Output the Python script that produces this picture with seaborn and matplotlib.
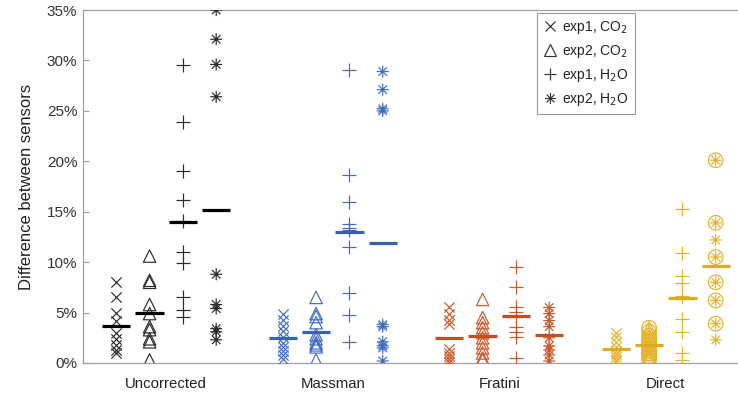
import numpy as np
import pandas as pd
import seaborn as sns
import matplotlib
matplotlib.use("Agg")
import matplotlib.pyplot as plt
from matplotlib.path import Path
from matplotlib.lines import Line2D

# ---- data (% difference between sensors) ----
methods = ["Uncorrected", "Massman", "Fratini", "Direct"]
series = ["exp1, CO$_2$", "exp2, CO$_2$", "exp1, H$_2$O", "exp2, H$_2$O"]

uncorrected_exp1_co2 = [8.0, 6.5, 5.0, 4.2, 3.0, 2.4, 1.8, 1.3, 1.0]
uncorrected_exp2_co2 = [10.6, 8.2, 8.0, 5.8, 4.9, 3.6, 3.3, 2.4, 2.1, 0.3]
uncorrected_exp1_h2o = [29.5, 23.9, 19.0, 16.2, 14.1, 11.0, 9.9, 6.5, 5.3, 4.6]
uncorrected_exp2_h2o = [35.0, 32.1, 29.6, 26.4, 8.8, 5.8, 5.4, 3.4, 3.1, 2.3]

massman_exp1_co2 = [4.9, 4.3, 3.7, 3.2, 2.6, 2.0, 1.6, 1.2, 0.8, 0.4]
massman_exp2_co2 = [6.5, 4.9, 4.6, 4.0, 2.8, 2.4, 2.0, 1.8, 1.6, 0.3]
massman_exp1_h2o = [29.1, 18.6, 16.0, 13.8, 13.4, 13.2, 11.5, 6.9, 4.8, 2.1]
massman_exp2_h2o = [28.9, 27.1, 25.2, 25.0, 3.8, 3.6, 2.1, 1.7, 1.5, 0.2]

fratini_exp1_co2 = [5.6, 4.9, 4.3, 3.9, 1.4, 1.0, 0.7, 0.4, 0.1]
fratini_exp2_co2 = [6.3, 4.5, 4.0, 3.5, 3.0, 2.5, 2.0, 1.5, 1.0, 0.5, 0.3]
fratini_exp1_h2o = [9.5, 7.5, 5.6, 5.1, 4.6, 3.6, 3.1, 2.6, 0.5]
fratini_exp2_h2o = [5.5, 4.9, 4.2, 3.6, 2.5, 1.7, 1.3, 0.8, 0.2]

direct_exp1_co2 = [3.0, 2.6, 2.1, 1.6, 1.2, 0.9, 0.6, 0.3, 0.2]
direct_exp2_co2 = [3.5, 3.1, 2.7, 2.4, 2.1, 1.8, 1.5, 1.2, 0.9, 0.6, 0.3]
direct_exp1_h2o = [15.3, 10.9, 8.6, 7.9, 6.6, 4.4, 3.1, 1.0, 0.3]
direct_exp2_h2o = [20.1, 13.9, 12.2, 10.5, 8.0, 6.2, 3.9, 2.3]

# points highlighted with an open circle (Direct, exp2)
direct_exp2_co2_circled = [3.5, 3.1, 2.7, 2.4, 2.1, 1.8, 1.5, 1.2, 0.9, 0.6, 0.3]
direct_exp2_h2o_circled = [20.1, 13.9, 10.5, 8.0, 6.2, 3.9]

yticks = [0, 5, 10, 15, 20, 25, 30, 35]

table = {
    "Uncorrected": [uncorrected_exp1_co2, uncorrected_exp2_co2, uncorrected_exp1_h2o, uncorrected_exp2_h2o],
    "Massman": [massman_exp1_co2, massman_exp2_co2, massman_exp1_h2o, massman_exp2_h2o],
    "Fratini": [fratini_exp1_co2, fratini_exp2_co2, fratini_exp1_h2o, fratini_exp2_h2o],
    "Direct": [direct_exp1_co2, direct_exp2_co2, direct_exp1_h2o, direct_exp2_h2o],
}

colors = {"Uncorrected": "#2b2b2b", "Massman": "#3f6cc0",
          "Fratini": "#c9582b", "Direct": "#e5b22a"}
bar_colors = {"Uncorrected": "#000000", "Massman": "#3762b3",
              "Fratini": "#c24f22", "Direct": "#dfab1f"}
offsets = [-0.3, -0.1, 0.1, 0.3]

# asterisk marker (8 arms, line only)
_d = 0.7071
asterisk = Path(
    [(-1, 0), (1, 0), (0, -1), (0, 1), (-_d, -_d), (_d, _d), (-_d, _d), (_d, -_d)],
    [Path.MOVETO, Path.LINETO] * 4,
)
markers = ["x", "^", "+", asterisk]
sizes = [55, 80, 100, 75]

rows = []
for mi, m in enumerate(methods):
    for si, vals in enumerate(table[m]):
        for v in vals:
            rows.append({"method": m, "series": si, "pos": mi + 1 + offsets[si], "value": v})
df = pd.DataFrame(rows)

sns.set_theme(style="white")
plt.rcParams["font.family"] = ["Liberation Sans", "DejaVu Sans"]

fig = plt.figure(figsize=(7.38, 3.96), dpi=100)
ax = fig.add_axes([83 / 738, 33 / 396, (749 - 83) / 738, (363 - 10) / 396])

for m in methods:
    for si in range(4):
        sub = df[(df.method == m) & (df.series == si)]
        c = colors[m]
        if markers[si] in ("x", "+"):
            sns.scatterplot(data=sub, x="pos", y="value", marker=markers[si], s=sizes[si],
                            color=c, linewidth=0.85, ax=ax, legend=False, zorder=3)
        else:
            sns.scatterplot(data=sub, x="pos", y="value", marker=markers[si], s=sizes[si],
                            facecolor="none", edgecolor=c, linewidth=0.85, ax=ax,
                            legend=False, zorder=3)
        mean = sub["value"].mean()
        x0 = sub["pos"].iloc[0]
        ax.hlines(mean, x0 - 0.085, x0 + 0.085, color=bar_colors[m], lw=2.3, zorder=4)

# open circles around highlighted Direct points
circ = pd.DataFrame({
    "pos": [4 + offsets[1]] * len(direct_exp2_co2_circled) + [4 + offsets[3]] * len(direct_exp2_h2o_circled),
    "value": direct_exp2_co2_circled + direct_exp2_h2o_circled,
})
sns.scatterplot(data=circ, x="pos", y="value", marker="o", s=110, facecolor="none",
                edgecolor=colors["Direct"], linewidth=0.85, ax=ax, legend=False, zorder=3)

ax.set_xlim(0.5, 4.5)
ax.set_ylim(0, 35)
ax.set_xticks(range(1, 5))
ax.set_xticklabels(methods)
ax.set_yticks(yticks)
ax.set_yticklabels([f"{t}%" for t in yticks])
ax.set_xlabel("")
ax.set_ylabel("Difference between sensors", fontsize=12, color="#222222", labelpad=9)

for side in ("left", "bottom", "top"):
    ax.spines[side].set_color("#a0a0a0")
    ax.spines[side].set_linewidth(0.9)
ax.spines["right"].set_visible(False)
ax.tick_params(axis="y", direction="in", length=4, width=0.8, color="#a0a0a0",
               labelsize=11, labelcolor="#333333", left=True, pad=4)
ax.tick_params(axis="x", length=0, labelsize=10.8, labelcolor="#222222", pad=10)

handles = [
    Line2D([], [], ls="none", marker="x", ms=7, mec="#333333", mew=0.85),
    Line2D([], [], ls="none", marker="^", ms=8.5, mfc="none", mec="#333333", mew=0.85),
    Line2D([], [], ls="none", marker="+", ms=9, mec="#333333", mew=0.85),
    Line2D([], [], ls="none", marker=asterisk, ms=8, mfc="none", mec="#333333", mew=0.85),
]
leg = ax.legend(handles, series, loc="upper left",
                bbox_to_anchor=(537 / 738, 1 - 13 / 396), bbox_transform=fig.transFigure,
                frameon=True, fancybox=False, fontsize=10, handlelength=0.9,
                handletextpad=0.45, labelspacing=0.5, borderpad=0.45, borderaxespad=0)
leg.get_frame().set_edgecolor("#808080")
leg.get_frame().set_linewidth(0.8)
for t in leg.get_texts():
    t.set_color("#222222")

fig.savefig("out.png", dpi=100)
